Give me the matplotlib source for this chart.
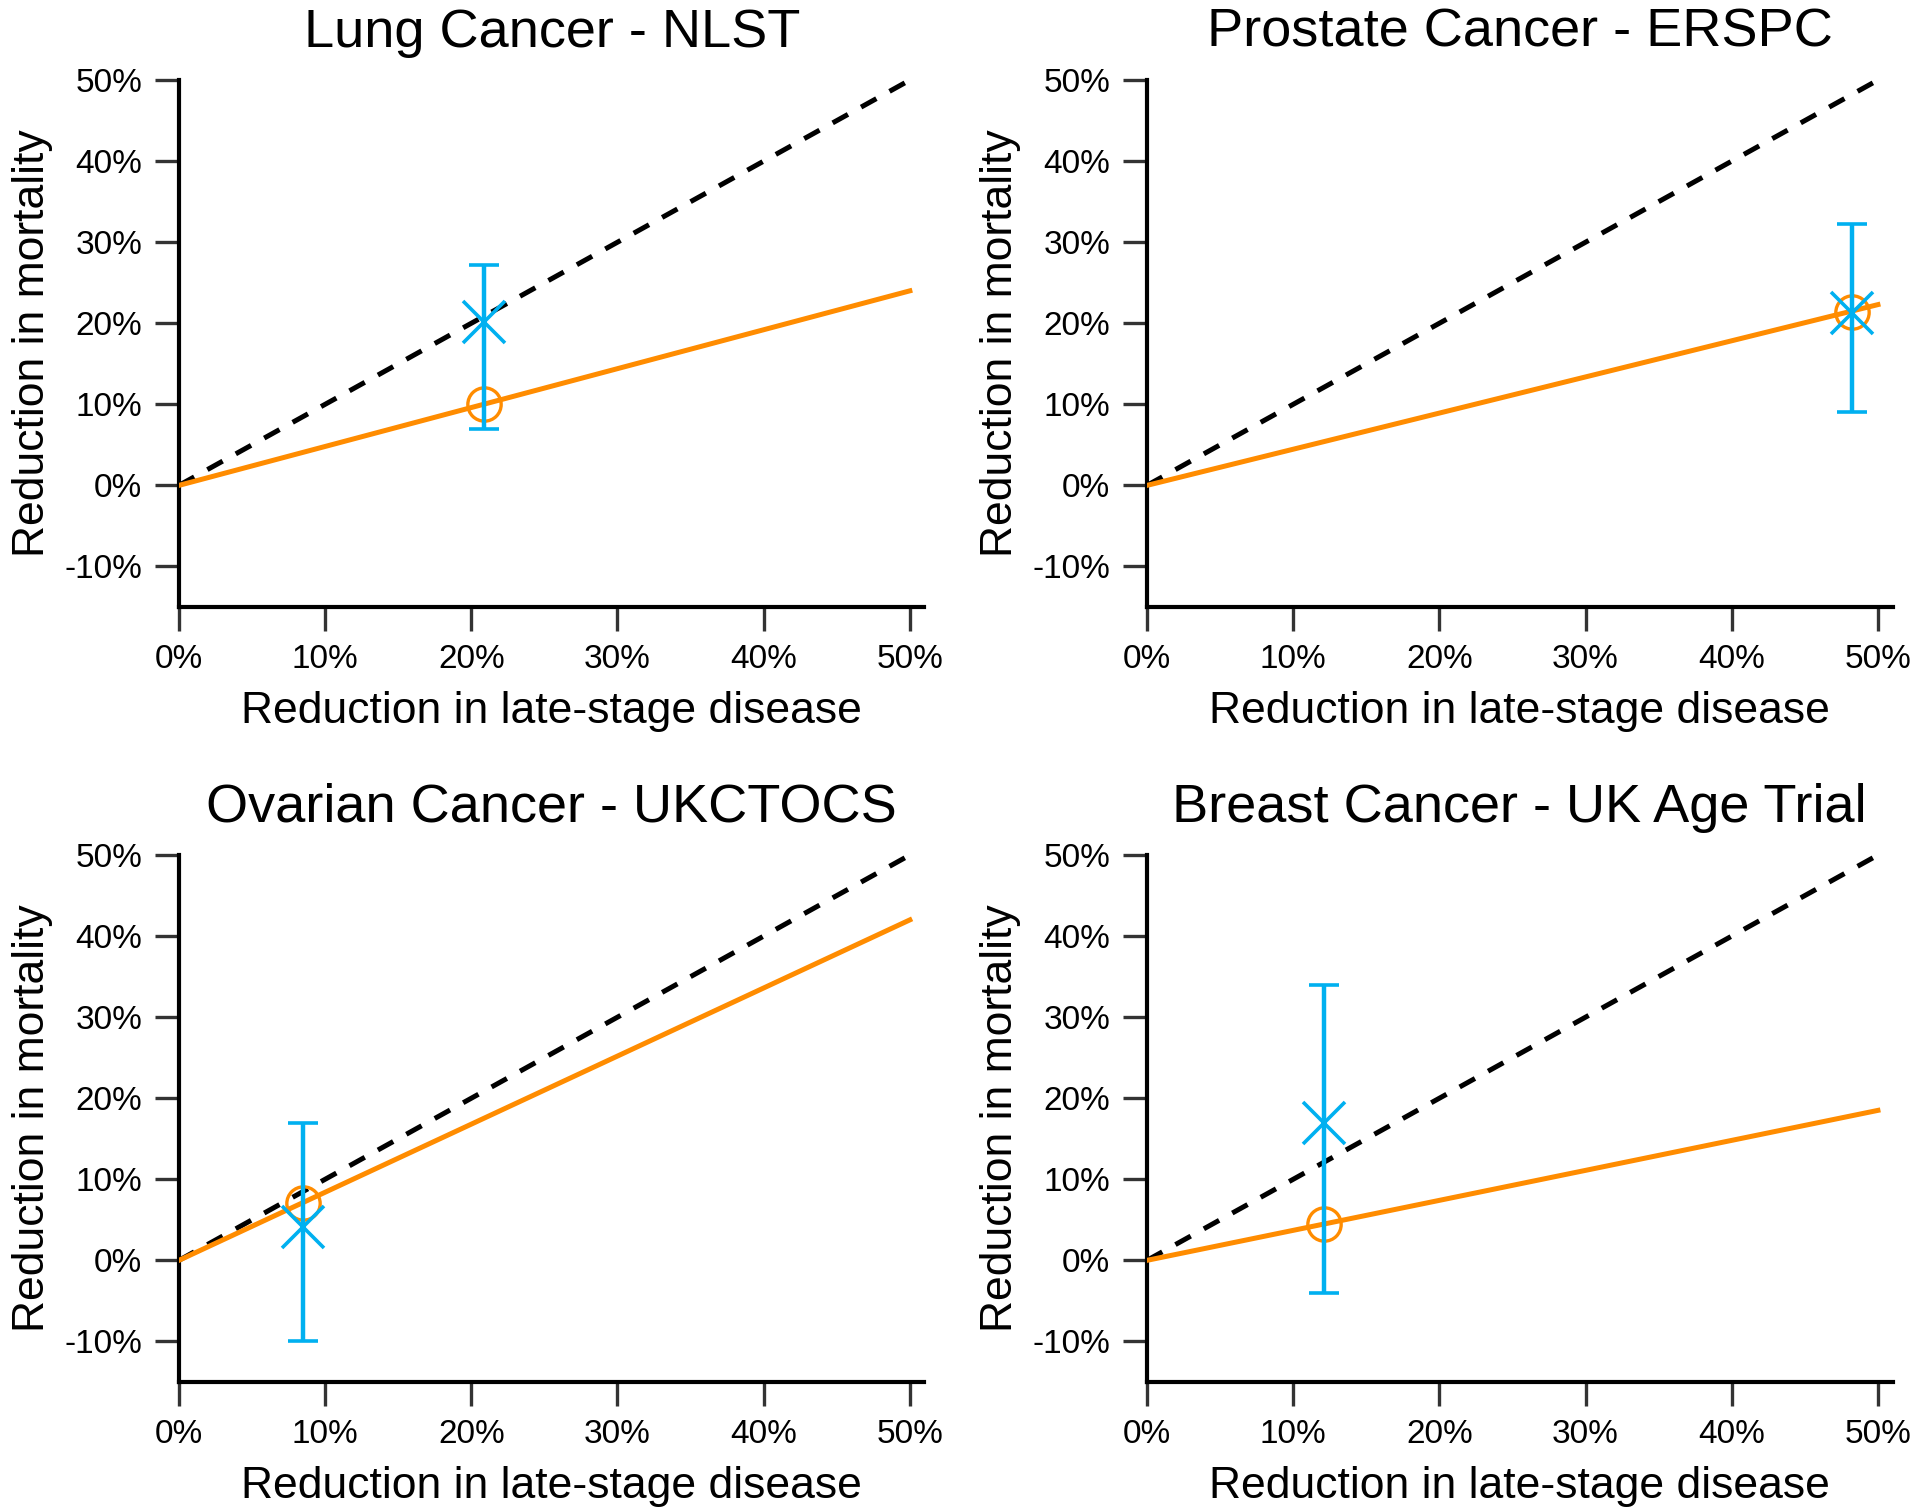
import numpy as np
import matplotlib
matplotlib.use("Agg")
import matplotlib.pyplot as plt
from matplotlib.ticker import PercentFormatter

plt.rcParams['font.family'] = ['Liberation Sans', 'DejaVu Sans']
plt.rcParams['axes.unicode_minus'] = False

titles = ["Lung Cancer - NLST", "Prostate Cancer - ERSPC",
          "Ovarian Cancer - UKCTOCS", "Breast Cancer - UK Age Trial"]
# observed reduction in late-stage disease (x) and in mortality (y, with CI)
late_stage = [20.9, 48.2, 8.5, 12.1]
mort_obs = [20.1, 21.3, 4.1, 17.0]
ci_low = [7.0, 9.1, -10.0, -4.0]
ci_high = [27.2, 32.2, 17.0, 34.0]
# model-predicted mortality reduction at the observed x, and at x = 50%
mort_pred = [10.1, 21.4, 7.1, 4.5]
pred_end = [24.0, 22.3, 42.0, 18.5]
line_x = [0, 50]

blue = '#00B0F0'
orange = '#FF8C00'

fig = plt.figure(figsize=(19.2, 15.08), dpi=100)
lefts = [0.0932, 0.5974, 0.0932, 0.5974]
bottoms = [0.5975, 0.5975, 0.0836, 0.0836]
w, h = 0.3883, 0.3494

for i in range(4):
    ax = fig.add_axes([lefts[i], bottoms[i], w, h])
    ax.plot(line_x, line_x, color='black', lw=3.6, dashes=(3.5, 3), zorder=2)
    ax.plot(line_x, [0, pred_end[i]], color=orange, lw=3.6, zorder=3)
    ax.plot(late_stage[i], mort_pred[i], 'o', ms=24, mfc='none', mec=orange,
            mew=2.4, zorder=4)
    ax.errorbar(late_stage[i], mort_obs[i],
                yerr=[[mort_obs[i] - ci_low[i]], [ci_high[i] - mort_obs[i]]],
                fmt='x', color=blue, ms=30, mew=2.6, elinewidth=3.2,
                capsize=11, capthick=3.2, zorder=5)

    ax.set_xlim(0, 51)
    ax.set_ylim(-15, 50)
    ax.set_xticks(np.arange(0, 51, 10))
    ax.set_yticks(np.arange(-10, 51, 10))
    ax.xaxis.set_major_formatter(PercentFormatter(decimals=0))
    ax.yaxis.set_major_formatter(PercentFormatter(decimals=0))
    for s in ['top', 'right']:
        ax.spines[s].set_visible(False)
    for s in ['left', 'bottom']:
        ax.spines[s].set_linewidth(3)
    ax.tick_params(direction='out', length=17.5, width=2.4, color='#333333',
                   labelsize=24, pad=9)
    ax.set_title(titles[i], fontsize=39, pad=24)
    ax.set_xlabel("Reduction in late-stage disease", fontsize=32, labelpad=12)
    ax.set_ylabel("Reduction in mortality", fontsize=32, labelpad=8)

fig.savefig("out.png", dpi=100)
